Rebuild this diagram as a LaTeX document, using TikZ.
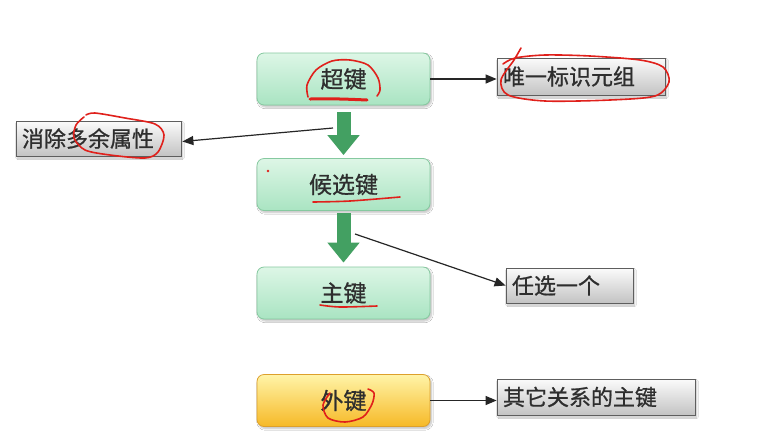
\documentclass[tikz,border=0pt]{standalone}
\usepackage{fontspec}
\newfontfamily\cjk[FakeBold=0.9]{Noto Sans CJK SC}
\usetikzlibrary{arrows.meta,shadows.blur,calc}

\definecolor{keytop}{HTML}{DDF6E6}
\definecolor{keybot}{HTML}{A9E4C2}
\definecolor{keyline}{HTML}{86C9A0}
\definecolor{fktop}{HTML}{FFF4A8}
\definecolor{fkbot}{HTML}{F6B927}
\definecolor{fkline}{HTML}{DDA02C}
\definecolor{notetop}{HTML}{FBFBFB}
\definecolor{notebot}{HTML}{C3C3C3}
\definecolor{noteline}{HTML}{5E5E5E}
\definecolor{textgray}{HTML}{2E2E2E}
\definecolor{flowgreen}{HTML}{43A062}
\definecolor{pen}{HTML}{E0201B}

\tikzset{
  keybox/.style={rounded corners=7pt, draw=keyline, line width=0.8pt,
    top color=keytop, bottom color=keybot,
    minimum width=173pt, minimum height=52pt, inner sep=0pt,
    font=\cjk\fontsize{23}{23}\selectfont, text=textgray,
    blur shadow={shadow xshift=1.5pt, shadow yshift=-2pt, shadow blur steps=6, shadow opacity=25}},
  fkbox/.style={keybox, draw=fkline, top color=fktop, bottom color=fkbot},
  notebox/.style={draw=noteline, line width=0.8pt,
    top color=notetop, bottom color=notebot,
    minimum height=#1, inner xsep=6pt, inner ysep=0pt, align=left,
    font=\cjk\fontsize{22}{22}\selectfont, text=textgray,
    blur shadow={shadow xshift=1.5pt, shadow yshift=-2pt, shadow blur steps=6, shadow opacity=25}},
  flow/.style={line width=14pt, draw=flowgreen,
    -{Triangle[width=31pt,length=20pt]}},
  link/.style={line width=1.2pt, draw=black!85,
    -{Triangle[width=9pt,length=11pt]}},
  ink/.style={draw=pen, line width=1.6pt, line cap=round, line join=round}
}

\begin{document}
\begin{tikzpicture}[x=1pt,y=-1pt]
  \useasboundingbox (0,0) rectangle (770,440);
  \fill[white] (0,0) rectangle (770,440);

  % key chain
  \node[keybox] (super) at (343.5,79) {超键};
  \node[keybox] (cand)  at (343.5,184.5) {候选键};
  \node[keybox] (prim)  at (343.5,293) {主键};
  \node[fkbox]  (fk)    at (343.5,400.5) {外键};

  % notes
  \node[notebox=37pt, text width=156pt] (unique) at (581,76.5) {唯一标识元组};
  \node[notebox=35pt, text width=153pt] (redund) at (98.5,138.5) {消除多余属性};
  \node[notebox=35pt, text width=115pt] (anyone) at (569.5,285.5) {任选一个};
  \node[notebox=36pt, text width=186pt] (other)  at (596,397) {其它关系的主键};

  % thick flow arrows between keys
  \draw[flow] ($(super.south)+(0,7)$) -- ($(cand.north)+(0,-3)$);
  \draw[flow] ($(cand.south)+(0,2)$) -- ($(prim.north)+(0,-4)$);

  % thin links to notes
  \coordinate (fromsuper) at (333,128);
  \coordinate (fromcand)  at (355,234);
  \draw[link] (super.east) -- (unique.west |- super.east);
  \draw[link] (fromsuper) -- ($(redund.east)+(1,3)$);
  \draw[link] (fromcand) -- (anyone.west);
  \draw[link] (fk.east) -- (other.west |- fk.east);

  % hand-drawn red pen marks
  \draw[ink] plot[smooth] coordinates {(308,97) (307,85) (316,70) (332,61) (350,60) (368,65) (378,78) (380,90) (377,96)};
  \draw[ink, line width=3pt] plot[smooth] coordinates {(310,99) (340,99) (367,100)};
  \draw[ink] plot[smooth] coordinates {(521,48) (514,60) (501,80) (508,95) (545,101) (610,100) (655,96) (669,82) (663,67) (640,60) (590,56) (545,55) (515,58) (503,64)};
  \draw[ink] plot[smooth] coordinates {(86,115) (95,113) (125,118) (155,124) (164,135) (158,152) (145,158) (110,155) (85,150) (74,138) (76,125) (84,117)};
  \fill[pen] (268,171) circle (1.4pt);
  \draw[ink] plot[smooth] coordinates {(313,202) (350,201) (400,197)};
  \draw[ink] plot[smooth] coordinates {(320,305) (340,307) (377,306)};
  \draw[ink] plot[smooth] coordinates {(330,393) (323,405) (328,418) (345,422) (363,417) (372,404) (374,393) (368,389)};
\end{tikzpicture}
\end{document}
